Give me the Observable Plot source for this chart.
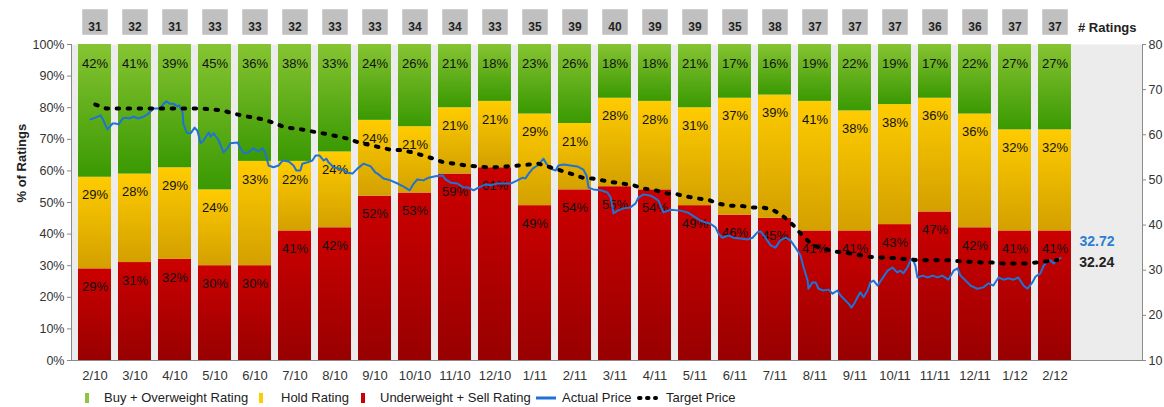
<!DOCTYPE html>
<html><head><meta charset="utf-8">
<script src="https://cdn.jsdelivr.net/npm/d3@7"></script>
<script src="https://cdn.jsdelivr.net/npm/@observablehq/plot@0.6"></script>
<style>
body{margin:0;background:#fff;font-family:"Liberation Sans",Arial,sans-serif;}
#wrap{position:relative;width:1164px;height:407px;overflow:hidden;}
#bars,#prices{position:absolute;left:0;top:0;}
#legend{position:absolute;left:0;top:385px;width:1164px;height:22px;font-size:13px;color:#222;}
.li{position:absolute;top:5px;line-height:16px;white-space:nowrap;}
.sw{position:absolute;top:8px;width:4px;height:10px;}
</style></head><body>
<div id="wrap"><div id="bars"></div><div id="prices"></div><div id="legend"></div></div>
<script>
// ---- data ----
const months = ["2/10","3/10","4/10","5/10","6/10","7/10","8/10","9/10","10/10","11/10","12/10","1/11","2/11","3/11","4/11","5/11","6/11","7/11","8/11","9/11","10/11","11/11","12/11","1/12","2/12"];
const buyPct  = [42,41,39,45,36,38,33,24,26,21,18,23,26,18,18,21,17,16,19,22,19,17,22,27,27];
const holdPct = [29,28,29,24,33,22,24,24,21,21,21,29,21,28,28,31,37,39,41,38,38,36,36,32,32];
const sellPct = [29,31,32,30,30,41,42,52,53,59,61,49,54,55,54,49,46,45,41,41,43,47,42,41,41];
const numRatings = [31,32,31,33,33,32,33,33,34,34,33,35,39,40,39,39,35,38,37,37,37,36,36,37,37];
const pctTicks = [0,10,20,30,40,50,60,70,80,90,100];
const priceTicks = [10,20,30,40,50,60,70,80];
// [month index (0 = 2/10), price]
const actualPrice = [[-0.05,63.4],[0.07,63.8],[0.20,64.3],[0.27,63.2],[0.37,61.2],[0.50,62.5],[0.57,62.5],[0.65,62.3],[0.75,63.6],[0.82,63.8],[0.90,63.6],[1.02,64.0],[1.14,63.6],[1.27,64.0],[1.39,64.7],[1.52,65.8],[1.69,65.8],[1.77,66.9],[1.84,67.4],[1.92,66.9],[2.01,66.9],[2.11,66.3],[2.16,66.5],[2.24,64.9],[2.26,62.5],[2.34,60.5],[2.44,60.3],[2.54,61.6],[2.61,60.9],[2.69,58.1],[2.76,58.7],[2.81,59.4],[2.89,60.5],[2.94,59.6],[3.01,60.3],[3.13,58.9],[3.26,56.1],[3.36,57.0],[3.43,58.1],[3.61,58.3],[3.68,57.0],[3.76,55.9],[3.88,56.1],[4.00,57.0],[4.13,56.3],[4.23,57.0],[4.30,55.9],[4.38,53.2],[4.50,52.8],[4.63,53.2],[4.73,54.3],[4.88,54.1],[5.00,53.2],[5.07,52.1],[5.17,52.1],[5.22,53.6],[5.35,53.9],[5.47,54.3],[5.55,55.4],[5.65,55.4],[5.75,54.3],[5.82,54.7],[5.87,53.9],[6.00,52.8],[6.22,52.3],[6.34,51.6],[6.47,51.4],[6.59,52.5],[6.74,53.6],[6.92,53.0],[7.04,51.6],[7.09,51.4],[7.24,50.3],[7.41,49.9],[7.59,49.2],[7.74,48.5],[7.89,47.7],[7.99,49.2],[8.08,50.1],[8.23,49.9],[8.36,50.5],[8.53,50.8],[8.71,51.0],[8.78,50.1],[8.91,49.4],[9.08,49.2],[9.23,48.3],[9.35,48.3],[9.48,47.7],[9.60,48.3],[9.78,49.0],[9.90,48.8],[10.07,49.2],[10.22,49.2],[10.40,49.2],[10.57,49.9],[10.70,50.5],[10.77,50.3],[10.85,51.4],[10.95,52.5],[11.07,53.2],[11.14,53.9],[11.22,54.7],[11.29,53.6],[11.39,52.5],[11.52,52.1],[11.59,53.2],[11.72,53.4],[11.89,53.2],[12.06,53.0],[12.21,52.3],[12.29,51.0],[12.34,48.3],[12.46,47.9],[12.64,47.7],[12.81,47.2],[12.89,46.1],[12.96,42.6],[13.06,43.2],[13.21,43.7],[13.38,43.9],[13.51,44.8],[13.58,46.1],[13.71,46.8],[13.88,46.5],[14.00,45.9],[14.08,45.4],[14.13,44.3],[14.20,42.8],[14.38,43.4],[14.63,43.2],[14.80,42.8],[15.00,41.7],[15.12,41.0],[15.25,40.6],[15.37,40.3],[15.50,39.5],[15.57,38.1],[15.67,37.2],[15.82,37.7],[15.95,37.2],[16.12,37.0],[16.29,36.8],[16.42,37.2],[16.54,38.4],[16.62,38.6],[16.74,37.2],[16.87,35.5],[16.99,35.0],[17.11,36.6],[17.24,37.2],[17.36,36.6],[17.49,35.0],[17.61,33.3],[17.69,30.6],[17.79,27.7],[17.81,25.9],[17.91,27.3],[17.99,27.3],[18.06,25.9],[18.18,25.5],[18.31,25.7],[18.41,24.8],[18.53,25.5],[18.61,24.4],[18.73,23.3],[18.81,22.6],[18.88,21.7],[18.96,22.8],[19.03,24.0],[19.10,25.1],[19.18,24.0],[19.28,25.5],[19.35,27.3],[19.43,27.7],[19.53,26.6],[19.65,28.2],[19.78,29.9],[19.90,30.6],[20.02,29.5],[20.10,29.9],[20.17,29.3],[20.27,30.6],[20.35,32.2],[20.40,32.6],[20.47,31.0],[20.52,28.4],[20.65,28.8],[20.77,28.4],[20.90,28.8],[21.02,28.4],[21.14,28.8],[21.29,27.9],[21.42,29.9],[21.52,30.4],[21.59,28.8],[21.72,27.7],[21.84,26.6],[22.01,25.9],[22.16,26.2],[22.29,27.1],[22.41,26.6],[22.54,28.4],[22.66,27.9],[22.79,28.2],[22.91,27.9],[23.03,28.4],[23.16,26.6],[23.26,25.9],[23.38,27.3],[23.46,28.6],[23.58,29.3],[23.66,31.0],[23.76,31.9],[23.83,32.2],[23.91,31.5],[24.00,32.2],[24.08,32.72]];
const targetPrice = [[0.07,66.7],[0.35,65.8],[0.62,65.8],[0.90,65.8],[1.17,65.8],[1.44,65.8],[1.72,65.8],[1.99,65.8],[2.21,65.8],[2.44,65.8],[2.71,65.8],[2.99,65.6],[3.23,65.4],[3.51,64.7],[3.76,64.2],[4.00,63.8],[4.25,63.4],[4.55,62.5],[4.80,61.6],[5.05,61.4],[5.32,61.0],[5.60,60.5],[5.87,60.1],[6.12,59.6],[6.37,59.1],[6.62,58.3],[6.87,57.8],[7.16,57.2],[7.41,56.7],[7.66,56.6],[7.96,56.1],[8.23,55.4],[8.48,54.7],[8.73,53.9],[9.03,53.6],[9.28,53.2],[9.53,53.0],[9.83,52.8],[10.07,52.8],[10.32,53.0],[10.60,53.2],[10.85,53.4],[11.09,53.6],[11.39,52.8],[11.64,52.1],[11.89,51.4],[12.19,50.5],[12.44,50.3],[12.69,49.9],[12.94,49.5],[13.18,49.2],[13.46,48.8],[13.71,48.1],[14.00,47.7],[14.30,47.0],[14.55,46.8],[14.80,46.3],[15.05,45.9],[15.32,45.6],[15.55,44.8],[15.82,44.3],[16.12,44.3],[16.37,43.9],[16.67,43.9],[16.92,43.4],[17.16,42.1],[17.44,39.9],[17.66,37.7],[17.91,35.5],[18.18,34.8],[18.48,34.1],[18.73,33.9],[18.98,33.5],[19.28,33.0],[19.53,32.8],[19.78,32.8],[20.05,32.6],[20.30,32.4],[20.55,32.2],[20.82,32.2],[21.09,32.2],[21.34,32.2],[21.64,31.9],[21.89,31.9],[22.14,31.7],[22.39,31.7],[22.66,31.5],[22.91,31.5],[23.21,31.5],[23.46,31.7],[23.76,32.0],[24.00,32.24]];

// ---- layout ----
const W = 1164, H = 385;
const frameOpts = {width: W, height: H, marginTop: 44, marginBottom: 25, marginLeft: 71, marginRight: 22};
const xRange = [68.4, 1080.4], pad = 0.175;
const font = "Liberation Sans, Arial, sans-serif";
const rows = months.map((m, i) => ({month: m, buy: buyPct[i], hold: holdPct[i], sell: sellPct[i], n: numRatings[i]}));

const bars = Plot.plot({
  ...frameOpts,
  style: {fontFamily: font, fontSize: "13px", color: "#333", background: "transparent"},
  x: {type: "band", domain: months, range: xRange, padding: pad, axis: null},
  y: {domain: [0, 100], axis: null},
  marks: [
    Plot.frame({fill: "#ececec", stroke: null}),
    Plot.barY(rows, {x: "month", y1: 0, y2: "sell", fill: "url(#gRed)"}),
    Plot.barY(rows, {x: "month", y1: "sell", y2: d => d.sell + d.hold, fill: "url(#gYellow)"}),
    Plot.barY(rows, {x: "month", y1: d => d.sell + d.hold, y2: 100, fill: "url(#gGreen)"}),
    Plot.text(rows, {x: "month", y: "sell", text: d => d.sell + "%", dy: 18, fill: "#111", fontSize: 13}),
    Plot.text(rows, {x: "month", y: d => d.sell + d.hold, text: d => d.hold + "%", dy: 18, fill: "#111", fontSize: 13}),
    Plot.text(rows, {x: "month", frameAnchor: "top", text: d => d.buy + "%", dy: 14, fill: "#111", fontSize: 13}),
    Plot.dot(rows, {x: "month", frameAnchor: "top", dy: -22.5, symbol: "square", r: 14.4, fill: "#c0c0c0", stroke: null}),
    Plot.text(rows, {x: "month", frameAnchor: "top", dy: -22, text: d => String(d.n), fontWeight: "bold", fontSize: 12, fill: "#222"}),
    Plot.text(["# Ratings"], {frameAnchor: "top-right", dx: -6, dy: -22, textAnchor: "end", fontWeight: "bold", fontSize: 13, fill: "#222"}),
    Plot.axisX({tickSize: 0, tickPadding: 10, label: null, fontSize: 13}),
    Plot.axisY({ticks: pctTicks, tickFormat: d => d + "%", tickSize: 4, tickPadding: 3, label: null, fontSize: 12.5, stroke: "#888"}),
    Plot.frame({anchor: "left", stroke: "#8a8a8a"}),
    Plot.frame({anchor: "bottom", stroke: "#8a8a8a"}),
    Plot.text(["% of Ratings"], {frameAnchor: "left", dx: -50, rotate: -90, fontWeight: "bold", fontSize: 13, fill: "#222"})
  ]
});
const defs = d3.select(bars).insert("defs", ":first-child");
function grad(id, top, bottom) {
  const g = defs.append("linearGradient").attr("id", id).attr("x1", 0).attr("y1", 0).attr("x2", 0).attr("y2", 1);
  g.append("stop").attr("offset", "0%").attr("stop-color", top);
  g.append("stop").attr("offset", "100%").attr("stop-color", bottom);
}
grad("gGreen", "#86c432", "#3a9902");
grad("gYellow", "#ffcc00", "#d3a000");
grad("gRed", "#cc0000", "#980000");
document.getElementById("bars").append(bars);

const actual = actualPrice.map(([t, p]) => ({t, p}));
const target = targetPrice.map(([t, p]) => ({t, p}));
const prices = Plot.plot({
  ...frameOpts,
  style: {fontFamily: font, fontSize: "13px", color: "#333", background: "transparent"},
  x: {type: "linear", domain: [-0.5 - pad / 2, months.length - 0.5 + pad / 2], range: xRange, axis: null},
  y: {domain: [10, 80], axis: null},
  marks: [
    Plot.axisY({anchor: "right", ticks: priceTicks, tickSize: 3, tickPadding: 3, label: null, fontSize: 12.5, stroke: "#888"}),
    Plot.frame({anchor: "right", stroke: "#8a8a8a"}),
    Plot.line(actual, {x: "t", y: "p", stroke: "#1f72d6", strokeWidth: 2}),
    Plot.line(target, {x: "t", y: "p", stroke: "#000", strokeWidth: 4, strokeDasharray: "2.5,8.5", strokeLinecap: "round"}),
    Plot.text([actual[actual.length - 1]], {x: "t", y: "p", text: d => d.p.toFixed(2), dx: 19, dy: -16, textAnchor: "start", fill: "#2a7fd4", fontWeight: "bold", fontSize: 14}),
    Plot.text([target[target.length - 1]], {x: "t", y: "p", text: d => d.p.toFixed(2), dx: 22, dy: 2, textAnchor: "start", fill: "#222", fontWeight: "bold", fontSize: 14})
  ]
});
document.getElementById("prices").append(prices);

// ---- legend ----
const legend = document.getElementById("legend");
legend.innerHTML = `
<div class="sw" style="left:85px;background:#8cc63f"></div><div class="li" style="left:104px">Buy + Overweight Rating</div>
<div class="sw" style="left:259px;background:#ffcc00"></div><div class="li" style="left:281px">Hold Rating</div>
<div class="sw" style="left:361px;background:#cc0000"></div><div class="li" style="left:380px">Underweight + Sell Rating</div>
<svg style="position:absolute;left:535px;top:8px" width="22" height="10"><line x1="1" x2="21" y1="5" y2="5" stroke="#1f72d6" stroke-width="3"/></svg><div class="li" style="left:562px">Actual Price</div>
<svg style="position:absolute;left:636px;top:8px" width="22" height="10"><line x1="3" x2="20" y1="5" y2="5" stroke="#000" stroke-width="4" stroke-linecap="round" stroke-dasharray="1.5,6.5"/></svg><div class="li" style="left:666px">Target Price</div>`;
</script>
</body></html>
